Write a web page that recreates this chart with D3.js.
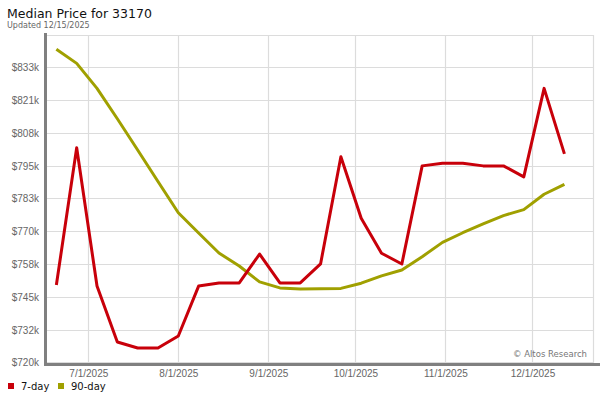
<!DOCTYPE html>
<html><head><meta charset="utf-8">
<script src="https://cdn.jsdelivr.net/npm/d3@7"></script>
<style>body{margin:0;background:#fff}svg{display:block;font-family:"DejaVu Sans",sans-serif}</style>
</head><body><svg id="c" width="600" height="400"></svg>
<script>
const dates = ["2025-06-20","2025-06-27","2025-07-04","2025-07-11","2025-07-18","2025-07-25","2025-08-01","2025-08-08","2025-08-15","2025-08-22","2025-08-29","2025-09-05","2025-09-12","2025-09-19","2025-09-26","2025-10-03","2025-10-10","2025-10-17","2025-10-24","2025-10-31","2025-11-07","2025-11-14","2025-11-21","2025-11-28","2025-12-05","2025-12-12"];
const day7 = [749.7,802.5,749.3,727.8,725.5,725.5,730.1,749.3,750.5,750.5,761.6,750.5,750.5,757.8,799.0,775.4,761.9,757.8,795.5,796.5,796.5,795.5,795.5,791.3,825.3,800.1];
const day90 = [840.3,834.9,825.3,813.6,801.6,789.5,777.5,769.7,762.0,757.0,750.9,748.6,748.2,748.3,748.4,750.4,753.2,755.5,760.6,766.1,769.8,773.2,776.4,778.7,784.6,788.4];
const yTickLabels = ["$720k","$732k","$745k","$758k","$770k","$783k","$795k","$808k","$821k","$833k"];
const xTickDates = ["2025-07-01","2025-08-01","2025-09-01","2025-10-01","2025-11-01","2025-12-01"];
const seriesNames = ["7-day","90-day"];
const colors = ["#c8000a","#a0a000"];

const svg = d3.select("#c");
const parse = d3.utcParse("%Y-%m-%d");
const L = 45, R = 593.5, T = 35, B = 362.3;
const pxPerDay = 90/31;
const x = d3.scaleUtc()
  .domain([new Date(parse("2025-07-01").getTime() - (88.3-L)/pxPerDay*864e5), new Date(parse("2025-07-01").getTime() + (R-88.3)/pxPerDay*864e5)])
  .range([L, R]);
const yStep = 12.6;
const yVals = yTickLabels.map((d,i)=>720+i*yStep);
const y = d3.scaleLinear().domain([720, 720+yStep*(B-T)/32.78]).range([B, T]);

// grid
const g = svg.append("g");
g.selectAll(".hg").data(yVals.concat([y.invert(T)])).join("line")
  .attr("x1", L).attr("x2", R).attr("y1", d=>Math.round(y(d))+0.5).attr("y2", d=>Math.round(y(d))+0.5)
  .attr("stroke","#dcdcdc").attr("stroke-width",1.2);
g.selectAll(".vg").data(xTickDates.map(parse)).join("line")
  .attr("x1", d=>Math.round(x(d))+0.5).attr("x2", d=>Math.round(x(d))+0.5).attr("y1", T).attr("y2", 365)
  .attr("stroke","#dcdcdc").attr("stroke-width",1.2);
g.append("line").attr("x1",R).attr("x2",R).attr("y1",T).attr("y2",365).attr("stroke","#dcdcdc").attr("stroke-width",1.2);

// axes lines
svg.append("line").attr("x1",45.5).attr("x2",45.5).attr("y1",33).attr("y2",366).attr("stroke","#808080").attr("stroke-width",3);
svg.append("line").attr("x1",44).attr("x2",600).attr("y1",364.5).attr("y2",364.5).attr("stroke","#808080").attr("stroke-width",3);

// y axis labels
const yAxis = d3.axisLeft(y).tickValues(yVals).tickFormat((d,i)=>yTickLabels[i]).tickSize(0).tickPadding(0);
const ya = svg.append("g").attr("transform","translate(39,0)").call(yAxis);
ya.select(".domain").remove();
ya.selectAll("text").attr("fill","#666").style("font-size","10px").attr("dy","0.35em");

// x axis labels
const xAxis = d3.axisBottom(x).tickValues(xTickDates.map(parse)).tickFormat(d3.utcFormat("%-m/%-d/%Y")).tickSize(0).tickPadding(0);
const xa = svg.append("g").attr("transform","translate(0,370)").call(xAxis);
xa.select(".domain").remove();
xa.selectAll("text").attr("fill","#666").style("font-size","10px").attr("dy","0.71em");

// lines
const line = d3.line().x((d,i)=>x(parse(dates[i]))).y(d=>y(d));
[day90, day7].forEach((s,k)=>{
  svg.append("path").datum(s).attr("d",line).attr("fill","none")
    .attr("stroke", colors[1-k]).attr("stroke-width",3).attr("stroke-linejoin","round");
});

// title
svg.append("text").attr("x",7).attr("y",18).text("Median Price for 33170").style("font-size","12.5px").attr("fill","#111");
svg.append("text").attr("x",7).attr("y",28).text("Updated 12/15/2025").style("font-size","8px").attr("fill","#666");
svg.append("text").attr("x",587).attr("y",357).attr("text-anchor","end").text("© Altos Research").style("font-size","8.5px").attr("fill","#777");

// legend
const lg = svg.append("g");
const lx = [8, 58];
seriesNames.forEach((n,i)=>{
  lg.append("rect").attr("x",lx[i]).attr("y",383).attr("width",6).attr("height",6).attr("fill",colors[i]);
  lg.append("text").attr("x",lx[i]+13).attr("y",390).text(n).style("font-size","10px").attr("fill","#111");
});
</script></body></html>
